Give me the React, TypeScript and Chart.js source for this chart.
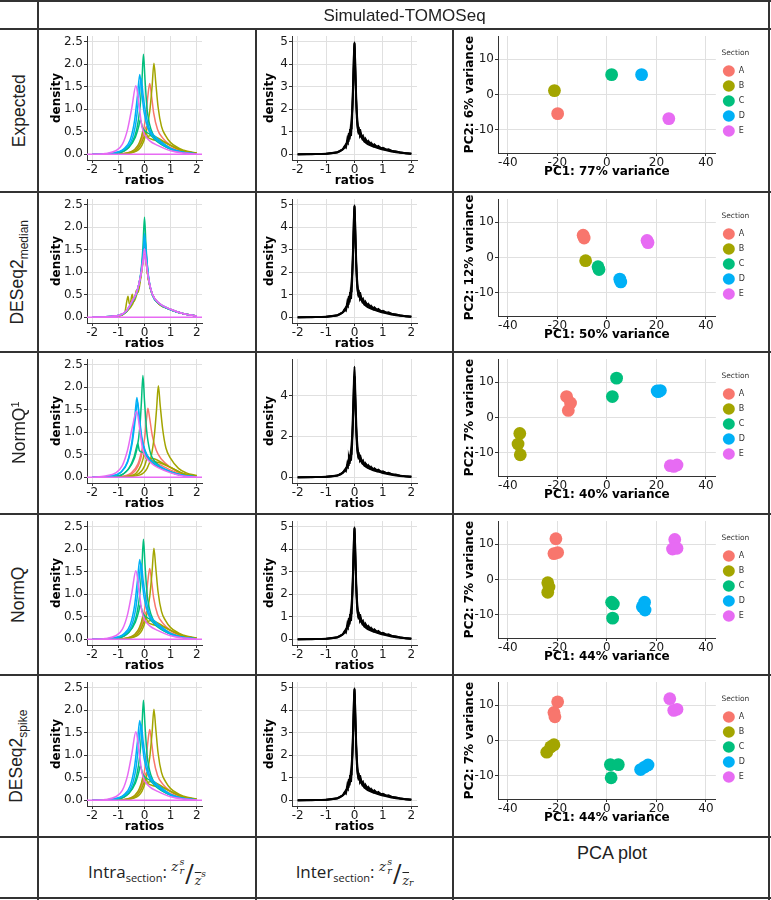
import React, { useEffect, useRef } from "react";
import { Chart, registerables } from "chart.js";
Chart.register(...registerables);

type Pt = [number, number];

// ---------- text ----------
const headerTitle = "Simulated-TOMOSeq";
const sectionNames = ["A", "B", "C", "D", "E"];
const sectionColors = ["#F8766D", "#A3A500", "#00BF7D", "#00B0F6", "#E76BF3"];
const ratioTicks = [-2, -1, 0, 1, 2];
const intraTicks = [0, 0.5, 1, 1.5, 2, 2.5];
const interTicks = [0, 1, 2, 3, 4, 5];
const interTicksQ1 = [0, 2, 4];
const pcaXTicks = [-40, -20, 0, 20, 40];
const pcaYTicks = [-10, 0, 10];
const pc1Labels = ["PC1: 77% variance", "PC1: 50% variance", "PC1: 40% variance", "PC1: 44% variance", "PC1: 44% variance"];
const pc2Labels = ["PC2: 6% variance", "PC2: 12% variance", "PC2: 7% variance", "PC2: 7% variance", "PC2: 7% variance"];

// ---------- intra-section densities: Expected / NormQ / DESeq2spike ----------
const expA1: Pt[] = [[-2, 0], [-1, 0.01], [-0.6, 0.04], [-0.3, 0.14], [-0.1, 0.38], [0.05, 0.85], [0.13, 1.3], [0.2, 1.57], [0.27, 1.3], [0.35, 0.92], [0.5, 0.55], [0.7, 0.36], [1, 0.2], [1.5, 0.07], [2, 0.02]];
const expA2: Pt[] = [[-2, 0], [-1, 0.01], [-0.5, 0.05], [-0.2, 0.2], [-0.05, 0.42], [0.08, 0.62], [0.2, 0.5], [0.4, 0.35], [0.7, 0.24], [1, 0.15], [1.5, 0.06], [2, 0.02]];
const expB1: Pt[] = [[-2, 0], [-1, 0.01], [-0.4, 0.05], [-0.1, 0.2], [0.05, 0.45], [0.2, 0.95], [0.29, 1.5], [0.36, 2.02], [0.43, 1.6], [0.52, 1.05], [0.65, 0.62], [0.8, 0.42], [1, 0.26], [1.5, 0.09], [2, 0.03]];
const expB2: Pt[] = [[-2, 0], [-1, 0.01], [-0.5, 0.06], [-0.25, 0.2], [-0.12, 0.38], [-0.05, 0.53], [0.02, 0.42], [0.1, 0.38], [0.3, 0.33], [0.6, 0.3], [1, 0.2], [1.5, 0.07], [2, 0.02]];
const expB3: Pt[] = [[-2, 0], [-1, 0.01], [-0.4, 0.06], [-0.15, 0.22], [0, 0.42], [0.05, 0.5], [0.12, 0.4], [0.25, 0.42], [0.45, 0.38], [0.7, 0.3], [1, 0.2], [1.5, 0.07], [2, 0.02]];
const expC1: Pt[] = [[-2, 0], [-1.2, 0.02], [-0.8, 0.07], [-0.5, 0.24], [-0.3, 0.55], [-0.17, 1.05], [-0.1, 1.6], [-0.04, 2.22], [0.02, 1.65], [0.1, 1.0], [0.25, 0.55], [0.5, 0.3], [1, 0.12], [1.5, 0.04], [2, 0.01]];
const expC2: Pt[] = [[-2, 0], [-1, 0.03], [-0.6, 0.15], [-0.35, 0.38], [-0.22, 0.62], [-0.16, 0.77], [-0.08, 0.6], [0.05, 0.5], [0.2, 0.45], [0.45, 0.3], [1, 0.12], [1.5, 0.04], [2, 0.01]];
const expD1: Pt[] = [[-2, 0], [-1.2, 0.03], [-0.8, 0.12], [-0.55, 0.32], [-0.38, 0.75], [-0.27, 1.3], [-0.18, 1.77], [-0.1, 1.35], [-0.02, 0.95], [0.12, 0.6], [0.3, 0.4], [0.5, 0.3], [1, 0.12], [1.5, 0.04], [2, 0.01]];
const expD2: Pt[] = [[-2, 0], [-1.2, 0.03], [-0.8, 0.1], [-0.5, 0.3], [-0.33, 0.7], [-0.22, 1.25], [-0.13, 1.68], [-0.05, 1.3], [0.05, 0.9], [0.2, 0.55], [0.4, 0.4], [0.6, 0.3], [1, 0.13], [1.5, 0.04], [2, 0.01]];
const expE1: Pt[] = [[-2, 0], [-1.5, 0.02], [-1.1, 0.08], [-0.85, 0.22], [-0.65, 0.55], [-0.48, 1.05], [-0.33, 1.52], [-0.22, 1.15], [-0.1, 0.62], [0.02, 0.42], [0.2, 0.3], [0.5, 0.2], [1, 0.08], [1.5, 0.03], [2, 0.01]];
const zeroLine: Pt[] = [[-2.2, 0], [2.2, 0]];

// ---------- intra-section densities: DESeq2 median ----------
const medA1: Pt[] = [[-2, 0], [-1, 0.04], [-0.7, 0.13], [-0.5, 0.33], [-0.3, 0.55], [-0.15, 0.9], [-0.05, 1.35], [0, 1.6], [0.05, 1.35], [0.15, 0.85], [0.3, 0.5], [0.55, 0.3], [1, 0.17], [1.5, 0.08], [2, 0.03]];
const medB1: Pt[] = [[-2, 0], [-1, 0.03], [-0.75, 0.12], [-0.68, 0.35], [-0.63, 0.47], [-0.58, 0.3], [-0.5, 0.33], [-0.3, 0.55], [-0.15, 0.9], [-0.05, 1.3], [0, 1.55], [0.05, 1.3], [0.15, 0.85], [0.3, 0.5], [0.55, 0.3], [1, 0.17], [1.5, 0.08], [2, 0.03]];
const medB2: Pt[] = [[-2, 0], [-1, 0.03], [-0.7, 0.12], [-0.55, 0.28], [-0.47, 0.51], [-0.41, 0.35], [-0.3, 0.5], [-0.15, 0.88], [-0.05, 1.3], [0, 1.5], [0.05, 1.28], [0.15, 0.84], [0.3, 0.5], [0.55, 0.3], [1, 0.17], [1.5, 0.08], [2, 0.03]];
const medB3: Pt[] = [[-2, 0], [-1, 0.03], [-0.7, 0.12], [-0.45, 0.3], [-0.36, 0.45], [-0.31, 0.6], [-0.25, 0.55], [-0.15, 0.85], [-0.05, 1.28], [0, 1.5], [0.05, 1.28], [0.15, 0.84], [0.3, 0.5], [0.55, 0.3], [1, 0.17], [1.5, 0.08], [2, 0.03]];
const medC1: Pt[] = [[-2, 0], [-1, 0.04], [-0.7, 0.13], [-0.5, 0.32], [-0.3, 0.55], [-0.15, 0.95], [-0.06, 1.55], [0, 2.22], [0.06, 1.55], [0.15, 0.9], [0.3, 0.52], [0.55, 0.32], [1, 0.18], [1.5, 0.08], [2, 0.03]];
const medD1: Pt[] = [[-2, 0], [-1, 0.04], [-0.7, 0.13], [-0.5, 0.32], [-0.3, 0.55], [-0.15, 0.93], [-0.05, 1.45], [0, 1.86], [0.05, 1.48], [0.15, 0.9], [0.3, 0.5], [0.55, 0.31], [1, 0.17], [1.5, 0.08], [2, 0.03]];
const medD2: Pt[] = [[-2, 0], [-1, 0.04], [-0.7, 0.13], [-0.5, 0.32], [-0.3, 0.55], [-0.15, 0.92], [-0.04, 1.45], [0.02, 1.75], [0.07, 1.4], [0.16, 0.88], [0.3, 0.5], [0.55, 0.31], [1, 0.17], [1.5, 0.08], [2, 0.03]];
const medE1: Pt[] = [[-2, 0], [-1, 0.04], [-0.7, 0.14], [-0.5, 0.33], [-0.3, 0.56], [-0.15, 0.92], [-0.05, 1.3], [0, 1.52], [0.05, 1.32], [0.15, 0.88], [0.3, 0.52], [0.55, 0.32], [1, 0.18], [1.5, 0.08], [2, 0.03]];
const medE2: Pt[] = [[-2, 0], [-1, 0.04], [-0.7, 0.14], [-0.5, 0.33], [-0.3, 0.56], [-0.15, 0.9], [-0.05, 1.22], [0, 1.38], [0.05, 1.25], [0.15, 0.86], [0.3, 0.52], [0.55, 0.32], [1, 0.18], [1.5, 0.08], [2, 0.03]];

// ---------- intra-section densities: NormQ1 ----------
const q1A1: Pt[] = [[-2, 0], [-1, 0.01], [-0.6, 0.05], [-0.35, 0.15], [-0.15, 0.4], [0, 0.85], [0.07, 1.25], [0.13, 1.53], [0.2, 1.3], [0.3, 0.92], [0.45, 0.6], [0.65, 0.4], [1, 0.22], [1.5, 0.07], [2, 0.02]];
const q1A2: Pt[] = [[-2, 0], [-1, 0.02], [-0.5, 0.1], [-0.25, 0.3], [-0.12, 0.55], [-0.05, 0.7], [0.03, 0.55], [0.15, 0.45], [0.35, 0.35], [0.7, 0.25], [1, 0.16], [1.5, 0.06], [2, 0.02]];
const q1B1: Pt[] = [[-2, 0], [-1, 0.01], [-0.2, 0.05], [0.1, 0.2], [0.25, 0.45], [0.38, 0.95], [0.46, 1.5], [0.53, 2.03], [0.6, 1.6], [0.7, 1.05], [0.82, 0.65], [1, 0.42], [1.3, 0.2], [1.6, 0.1], [2, 0.04]];
const q1B2: Pt[] = [[-2, 0], [-1, 0.01], [-0.4, 0.06], [-0.15, 0.25], [-0.05, 0.42], [0, 0.55], [0.06, 0.42], [0.15, 0.4], [0.35, 0.35], [0.6, 0.32], [1, 0.22], [1.5, 0.08], [2, 0.03]];
const q1B3: Pt[] = [[-2, 0], [-1, 0.01], [-0.3, 0.06], [0, 0.25], [0.08, 0.4], [0.12, 0.47], [0.18, 0.4], [0.3, 0.42], [0.5, 0.38], [0.75, 0.3], [1, 0.22], [1.5, 0.08], [2, 0.03]];
const q1C1: Pt[] = [[-2, 0], [-1.2, 0.02], [-0.8, 0.08], [-0.5, 0.28], [-0.3, 0.6], [-0.18, 1.1], [-0.12, 1.65], [-0.06, 2.26], [0, 1.7], [0.08, 1.05], [0.2, 0.6], [0.45, 0.32], [1, 0.12], [1.5, 0.04], [2, 0.01]];
const q1C2: Pt[] = [[-2, 0], [-1, 0.03], [-0.6, 0.2], [-0.4, 0.45], [-0.3, 0.68], [-0.26, 0.75], [-0.2, 0.6], [-0.05, 0.55], [0.1, 0.45], [0.35, 0.3], [1, 0.12], [1.5, 0.04], [2, 0.01]];
const q1D1: Pt[] = [[-2, 0], [-1.3, 0.03], [-0.9, 0.12], [-0.65, 0.35], [-0.48, 0.8], [-0.37, 1.35], [-0.29, 1.77], [-0.21, 1.35], [-0.12, 0.9], [0, 0.6], [0.2, 0.4], [0.5, 0.27], [1, 0.12], [1.5, 0.04], [2, 0.01]];
const q1D2: Pt[] = [[-2, 0], [-1.3, 0.03], [-0.9, 0.11], [-0.65, 0.33], [-0.47, 0.76], [-0.35, 1.3], [-0.27, 1.68], [-0.19, 1.3], [-0.1, 0.88], [0.02, 0.6], [0.2, 0.4], [0.5, 0.27], [1, 0.12], [1.5, 0.04], [2, 0.01]];
const q1E1: Pt[] = [[-2, 0], [-1.5, 0.03], [-1.1, 0.1], [-0.85, 0.26], [-0.65, 0.6], [-0.47, 1.1], [-0.3, 1.47], [-0.2, 1.15], [-0.08, 0.65], [0.05, 0.45], [0.25, 0.32], [0.5, 0.22], [1, 0.1], [1.5, 0.03], [2, 0.01]];

// ---------- inter-section densities ----------
const interMain: Pt[] = [[-2, 0], [-1.5, 0.01], [-1, 0.03], [-0.7, 0.07], [-0.5, 0.14], [-0.35, 0.3], [-0.25, 0.55], [-0.15, 1.0], [-0.08, 2.0], [-0.03, 3.9], [0, 4.97], [0.03, 3.7], [0.08, 1.9], [0.15, 1.05], [0.25, 0.75], [0.4, 0.52], [0.6, 0.38], [0.8, 0.29], [1, 0.21], [1.3, 0.13], [1.6, 0.07], [2, 0.03]];
const interMainQ1: Pt[] = [[-2, 0], [-1.5, 0.01], [-1, 0.03], [-0.7, 0.07], [-0.5, 0.14], [-0.35, 0.3], [-0.25, 0.55], [-0.15, 1.0], [-0.08, 2.1], [-0.03, 4.2], [0, 5.4], [0.03, 4.0], [0.08, 2.0], [0.15, 1.05], [0.25, 0.75], [0.4, 0.52], [0.6, 0.38], [0.8, 0.29], [1, 0.21], [1.3, 0.13], [1.6, 0.07], [2, 0.03]];
const interNoise1: Pt[] = [[-2, 0], [-1, 0.03], [-0.6, 0.1], [-0.45, 0.2], [-0.38, 0.28], [-0.32, 0.42], [-0.28, 0.5], [-0.25, 0.72], [-0.22, 0.6], [-0.2, 0.95], [-0.18, 0.82], [-0.16, 1.12], [-0.14, 0.95], [-0.12, 1.15], [-0.1, 1.3], [-0.06, 2.6], [-0.02, 4.6], [0, 4.9], [0.02, 4.4], [0.06, 2.4], [0.1, 1.3], [0.13, 1.05], [0.16, 1.12], [0.19, 0.88], [0.22, 0.98], [0.26, 0.75], [0.3, 0.82], [0.34, 0.62], [0.38, 0.7], [0.43, 0.54], [0.48, 0.6], [0.53, 0.46], [0.58, 0.52], [0.64, 0.4], [0.7, 0.45], [0.77, 0.34], [0.84, 0.38], [0.92, 0.28], [1, 0.3], [1.1, 0.21], [1.2, 0.23], [1.32, 0.15], [1.45, 0.14], [1.6, 0.09], [1.8, 0.05], [2, 0.03]];
const interNoise2: Pt[] = [[-2, 0], [-1, 0.02], [-0.6, 0.08], [-0.42, 0.22], [-0.35, 0.36], [-0.3, 0.3], [-0.26, 0.55], [-0.23, 0.5], [-0.21, 0.78], [-0.19, 0.7], [-0.17, 1.0], [-0.15, 0.85], [-0.13, 1.08], [-0.11, 1.0], [-0.08, 1.6], [-0.04, 3.2], [0, 4.95], [0.04, 3.1], [0.08, 1.6], [0.11, 1.15], [0.14, 0.95], [0.17, 1.0], [0.2, 0.8], [0.24, 0.88], [0.28, 0.68], [0.32, 0.74], [0.36, 0.58], [0.41, 0.64], [0.46, 0.5], [0.51, 0.55], [0.56, 0.42], [0.61, 0.47], [0.67, 0.36], [0.74, 0.4], [0.81, 0.3], [0.88, 0.33], [0.96, 0.25], [1.05, 0.26], [1.15, 0.19], [1.27, 0.18], [1.4, 0.12], [1.55, 0.1], [1.75, 0.06], [2, 0.03]];

// ---------- PCA coordinates (PC1, PC2) per section ----------
const pcaExpA: Pt[] = [[-19.9, -5.4]];
const pcaExpB: Pt[] = [[-21.2, 1.1]];
const pcaExpC: Pt[] = [[1.9, 5.6]];
const pcaExpD: Pt[] = [[14.0, 5.6]];
const pcaExpE: Pt[] = [[25.0, -6.8]];

const pcaMedA: Pt[] = [[-9.6, 6.3], [-9.2, 5.5]];
const pcaMedB: Pt[] = [[-8.6, -0.9]];
const pcaMedC: Pt[] = [[-3.6, -2.6], [-3.2, -3.4]];
const pcaMedD: Pt[] = [[5.2, -6.1], [5.6, -6.9]];
const pcaMedE: Pt[] = [[16.2, 4.8], [16.6, 4.2]];

const pcaQ1A: Pt[] = [[-16.3, 5.9], [-14.7, 4.1], [-15.6, 2.0]];
const pcaQ1B: Pt[] = [[-35.2, -4.5], [-35.9, -7.5], [-35.0, -10.5]];
const pcaQ1C: Pt[] = [[3.9, 11.1], [2.2, 5.9]];
const pcaQ1D: Pt[] = [[20.3, 7.5], [21.6, 7.6], [20.7, 7.3]];
const pcaQ1E: Pt[] = [[25.6, -13.6], [28.3, -13.4], [27.0, -13.8]];

const pcaNqA: Pt[] = [[-20.6, 11.5], [-21.4, 7.3], [-19.9, 7.6]];
const pcaNqB: Pt[] = [[-23.9, -0.9], [-23.4, -2.1], [-23.9, -3.6]];
const pcaNqC: Pt[] = [[1.9, -6.4], [2.6, -6.9], [2.3, -10.9]];
const pcaNqD: Pt[] = [[15.2, -6.4], [14.3, -7.7], [15.4, -8.6]];
const pcaNqE: Pt[] = [[27.4, 11.3], [26.5, 8.6], [28.3, 8.8]];

const pcaSpA: Pt[] = [[-19.9, 10.9], [-21.4, 7.9], [-21.0, 6.7]];
const pcaSpB: Pt[] = [[-24.3, -3.3], [-22.7, -1.8], [-21.4, -1.2]];
const pcaSpC: Pt[] = [[1.4, -6.8], [4.6, -6.8], [1.7, -10.5]];
const pcaSpD: Pt[] = [[13.6, -8.2], [15.2, -7.5], [16.6, -6.9]];
const pcaSpE: Pt[] = [[25.4, 11.8], [27.0, 8.5], [28.3, 8.8]];

// ---------- assembling ----------
type Curve = { sec: number; pts: Pt[]; jagged?: boolean; width?: number };

const expectedIntra: Curve[] = [
  { sec: 0, pts: expA1 }, { sec: 0, pts: expA2 },
  { sec: 1, pts: expB1 }, { sec: 1, pts: expB2 }, { sec: 1, pts: expB3 },
  { sec: 2, pts: expC1 }, { sec: 2, pts: expC2 },
  { sec: 3, pts: expD1 }, { sec: 3, pts: expD2 },
  { sec: 4, pts: expE1 }, { sec: 4, pts: zeroLine },
];
const medianIntra: Curve[] = [
  { sec: 0, pts: medA1 },
  { sec: 1, pts: medB1 }, { sec: 1, pts: medB2 }, { sec: 1, pts: medB3 },
  { sec: 2, pts: medC1 },
  { sec: 3, pts: medD1 }, { sec: 3, pts: medD2 },
  { sec: 4, pts: medE1 }, { sec: 4, pts: medE2 }, { sec: 4, pts: zeroLine },
];
const normQ1Intra: Curve[] = [
  { sec: 0, pts: q1A1 }, { sec: 0, pts: q1A2 },
  { sec: 1, pts: q1B1 }, { sec: 1, pts: q1B2 }, { sec: 1, pts: q1B3 },
  { sec: 2, pts: q1C1 }, { sec: 2, pts: q1C2 },
  { sec: 3, pts: q1D1 }, { sec: 3, pts: q1D2 },
  { sec: 4, pts: q1E1 }, { sec: 4, pts: zeroLine },
];
const interCurves: Curve[] = [
  { sec: -1, pts: interNoise2, jagged: true, width: 1.8 },
  { sec: -1, pts: interNoise1, jagged: true, width: 1.8 },
  { sec: -1, pts: interMain, width: 2 },
];
const interCurvesQ1: Curve[] = [
  { sec: -1, pts: interNoise2, jagged: true, width: 1.8 },
  { sec: -1, pts: interNoise1, jagged: true, width: 1.8 },
  { sec: -1, pts: interMainQ1, width: 2 },
];

const rowLabels: React.ReactNode[] = [
  "Expected",
  <>DESeq2<sub style={{ fontSize: 12 }}>median</sub></>,
  <>NormQ<sup style={{ fontSize: 11 }}>1</sup></>,
  "NormQ",
  <>DESeq2<sub style={{ fontSize: 12 }}>spike</sub></>,
];
const rowIntra = [expectedIntra, medianIntra, normQ1Intra, expectedIntra, expectedIntra];
const rowInter = [interCurves, interCurves, interCurvesQ1, interCurves, interCurves];
const rowPca: Pt[][][] = [
  [pcaExpA, pcaExpB, pcaExpC, pcaExpD, pcaExpE],
  [pcaMedA, pcaMedB, pcaMedC, pcaMedD, pcaMedE],
  [pcaQ1A, pcaQ1B, pcaQ1C, pcaQ1D, pcaQ1E],
  [pcaNqA, pcaNqB, pcaNqC, pcaNqD, pcaNqE],
  [pcaSpA, pcaSpB, pcaSpC, pcaSpD, pcaSpE],
];

// ---------- layout ----------
const rowTops = [29, 192, 352, 514, 675];
const rowBottoms = [192, 352, 514, 675, 837];
const colX = [38, 256, 453, 771];
const FAM = "'DejaVu Sans', sans-serif";
const TXT = "#1a1a1a";
const GRID = "#e0e0e0";
const AXIS = "#333333";

Chart.defaults.font.family = FAM;

function fixedTicks(values: number[]) {
  return (scale: any) => {
    scale.ticks = values.map((v) => ({ value: v }));
  };
}

function axisCommon(title: string, ticks: number[], fmt: (v: number) => string) {
  return {
    type: "linear",
    afterBuildTicks: fixedTicks(ticks),
    ticks: {
      font: { family: FAM, size: 12, lineHeight: 1 },
      color: TXT,
      padding: 1,
      maxRotation: 0,
      autoSkip: false,
      callback: (v: any) => fmt(Number(v)),
    },
    grid: { color: GRID, lineWidth: 1, tickColor: AXIS, tickLength: 3 },
    border: { display: true, color: AXIS, width: 1 },
    title: {
      display: true,
      text: title,
      color: "#000",
      font: { family: FAM, size: 12, weight: "bold", lineHeight: 1.2 },
      padding: { top: 2, bottom: 0 },
    },
  };
}

function densityConfig(curves: Curve[], yMin: number, yMax: number, yTicks: number[], decimals: number, lay: any) {
  const datasets = curves
    .map((c) => ({
      data: c.pts.map(([x, y]) => ({ x, y })),
      borderColor: c.sec < 0 ? "#000000" : sectionColors[c.sec],
      borderWidth: c.width ?? 1.5,
      pointRadius: 0,
      pointHoverRadius: 0,
      fill: false,
      tension: c.jagged ? 0 : 0.4,
      cubicInterpolationMode: c.jagged ? "default" : "monotone",
    }))
    .reverse();
  return {
    type: "line",
    data: { datasets },
    options: {
      animation: false,
      responsive: false,
      devicePixelRatio: 1,
      events: [],
      layout: { padding: lay.padding },
      plugins: { legend: { display: false }, tooltip: { enabled: false } },
      scales: {
        x: {
          ...axisCommon("ratios", ratioTicks, (v) => String(v)),
          min: -2.2,
          max: 2.2,
          afterFit: (s: any) => { s.height = lay.xH; },
        },
        y: {
          ...axisCommon("density", yTicks, (v) => v.toFixed(decimals)),
          min: yMin,
          max: yMax,
          afterFit: (s: any) => { s.width = lay.yW; },
        },
      },
    },
  };
}

function pcaConfig(groups: Pt[][], xTitle: string, yTitle: string) {
  return {
    type: "scatter",
    data: {
      datasets: groups.map((pts, i) => ({
        label: sectionNames[i],
        data: pts.map(([x, y]) => ({ x, y })),
        backgroundColor: sectionColors[i],
        borderColor: sectionColors[i],
        borderWidth: 0,
        pointRadius: 6.4,
        pointHoverRadius: 6.4,
        pointStyle: "circle",
      })),
    },
    options: {
      animation: false,
      responsive: false,
      devicePixelRatio: 1,
      events: [],
      layout: { padding: { left: 8, right: 16, top: 2, bottom: 11 } },
      plugins: {
        tooltip: { enabled: false },
        legend: {
          display: true,
          position: "right",
          fullSize: false,
          align: "center",
          title: { display: true, text: "Section", color: "#333", font: { family: FAM, size: 7.5 }, padding: 2 },
          labels: {
            usePointStyle: true,
            pointStyle: "circle",
            pointStyleWidth: 12,
            boxHeight: 8,
            color: "#333",
            font: { family: FAM, size: 8 },
            padding: 7,
          },
        },
      },
      scales: {
        x: {
          ...axisCommon(xTitle, pcaXTicks, (v) => String(v)),
          min: -44,
          max: 44,
          afterFit: (s: any) => { s.height = 26; },
        },
        y: {
          ...axisCommon(yTitle, pcaYTicks, (v) => String(v)),
          min: -16.5,
          max: 16.5,
          afterFit: (s: any) => { s.width = 37; },
        },
      },
    },
  };
}

function ChartBox(props: { left: number; top: number; width: number; height: number; make: () => any }) {
  const ref = useRef<HTMLCanvasElement | null>(null);
  useEffect(() => {
    if (!ref.current) return;
    const chart = new Chart(ref.current, props.make());
    return () => chart.destroy();
  }, []);
  return (
    <canvas
      ref={ref}
      width={props.width}
      height={props.height}
      style={{ position: "absolute", left: props.left, top: props.top, width: props.width, height: props.height }}
    />
  );
}

const LINE = "#333";
function HLine({ y }: { y: number }) {
  return <div style={{ position: "absolute", left: 0, top: y - 1, width: 771, height: 2, background: LINE }} />;
}
function VLine({ x, y0, y1 }: { x: number; y0: number; y1: number }) {
  return <div style={{ position: "absolute", left: x - 1, top: y0, width: 2, height: y1 - y0, background: LINE }} />;
}

function MathFrac({ den }: { den: "s" | "r" }) {
  const serif = "'DejaVu Serif', 'Liberation Serif', serif";
  return (
    <span style={{ fontFamily: serif, fontStyle: "italic", display: "inline-flex", alignItems: "center", color: "#222" }}>
      <span style={{ position: "relative", top: -7, fontSize: 13.5, display: "inline-flex", alignItems: "center" }}>
        z
        <span style={{ display: "inline-flex", flexDirection: "column", fontSize: 9.5, lineHeight: 1, marginLeft: 1 }}>
          <span>s</span>
          <span>r</span>
        </span>
      </span>
      <span style={{ fontStyle: "normal", fontSize: 25, fontWeight: 300, margin: "0 1px" }}>/</span>
      <span style={{ position: "relative", top: 7, fontSize: 12.5, display: "inline-flex", alignItems: "flex-start" }}>
        <span style={{ textDecoration: "overline" }}>z</span>
        {den === "s" ? (
          <span style={{ fontSize: 9, position: "relative", top: -4 }}>s</span>
        ) : (
          <span style={{ fontSize: 9, position: "relative", top: 5 }}>r</span>
        )}
      </span>
    </span>
  );
}

export default function App() {
  const rowH = 161;
  const charts: React.ReactNode[] = [];
  rowTops.forEach((top, r) => {
    charts.push(
      <ChartBox
        key={"intra" + r}
        left={colX[0]}
        top={top}
        width={colX[1] - colX[0]}
        height={rowH}
        make={() =>
          densityConfig(rowIntra[r], -0.125, 2.625, intraTicks, 1, {
            padding: { left: 10, right: 54, top: 4, bottom: 2 },
            yW: 39,
            xH: 28,
          })
        }
      />
    );
    const q1 = r === 2;
    charts.push(
      <ChartBox
        key={"inter" + r}
        left={colX[1]}
        top={top}
        width={colX[2] - colX[1]}
        height={rowH}
        make={() =>
          densityConfig(rowInter[r], q1 ? -0.275 : -0.25, q1 ? 5.775 : 5.25, q1 ? interTicksQ1 : interTicks, 0, {
            padding: { left: 5, right: 36, top: 4, bottom: 2 },
            yW: 31,
            xH: 28,
          })
        }
      />
    );
    charts.push(
      <ChartBox
        key={"pca" + r}
        left={colX[2]}
        top={top}
        width={colX[3] - colX[2]}
        height={rowH}
        make={() => pcaConfig(rowPca[r], pc1Labels[r], pc2Labels[r])}
      />
    );
  });

  const sans = "'Liberation Sans', Arial, sans-serif";
  return (
    <div style={{ position: "absolute", left: 0, top: 0, width: 771, height: 900, background: "#fff", overflow: "hidden" }}>
      {charts}
      {/* header */}
      <div style={{ position: "absolute", left: 38, top: 0, width: 733, height: 31, display: "flex", alignItems: "center", justifyContent: "center", fontFamily: sans, fontSize: 17, color: "#222" }}>
        {headerTitle}
      </div>
      {/* row labels */}
      {rowTops.map((t, r) => (
        <div key={"lab" + r} style={{ position: "absolute", left: 0, top: t, width: 38, height: rowBottoms[r] - t, display: "flex", alignItems: "center", justifyContent: "center" }}>
          <div style={{ transform: "rotate(-90deg)", whiteSpace: "nowrap", fontFamily: sans, fontSize: 17.5, color: "#222", lineHeight: 1 }}>
            {rowLabels[r]}
          </div>
        </div>
      ))}
      {/* footer */}
      <div style={{ position: "absolute", left: 38, top: 837, width: 218, height: 62, display: "flex", alignItems: "center", justifyContent: "center", paddingTop: 10, boxSizing: "border-box" }}>
        <span style={{ fontFamily: "'Open Sans', sans-serif", fontSize: 17, color: "#222" }}>
          Intra<sub style={{ fontSize: 11 }}>section</sub>:&nbsp;
        </span>
        <MathFrac den="s" />
      </div>
      <div style={{ position: "absolute", left: 256, top: 837, width: 197, height: 62, display: "flex", alignItems: "center", justifyContent: "center", paddingTop: 10, boxSizing: "border-box" }}>
        <span style={{ fontFamily: "'Open Sans', sans-serif", fontSize: 17, color: "#222" }}>
          Inter<sub style={{ fontSize: 11 }}>section</sub>:&nbsp;
        </span>
        <MathFrac den="r" />
      </div>
      <div style={{ position: "absolute", left: 453, top: 843, width: 318, textAlign: "center", fontFamily: sans, fontSize: 18, color: "#222" }}>
        PCA plot
      </div>
      {/* grid lines */}
      <HLine y={1} />
      {rowTops.map((t) => (
        <HLine key={"h" + t} y={t} />
      ))}
      <HLine y={837} />
      <HLine y={898} />
      <VLine x={38} y0={0} y1={900} />
      <VLine x={256} y0={29} y1={900} />
      <VLine x={453} y0={29} y1={900} />
      <VLine x={769} y0={0} y1={900} />
    </div>
  );
}
